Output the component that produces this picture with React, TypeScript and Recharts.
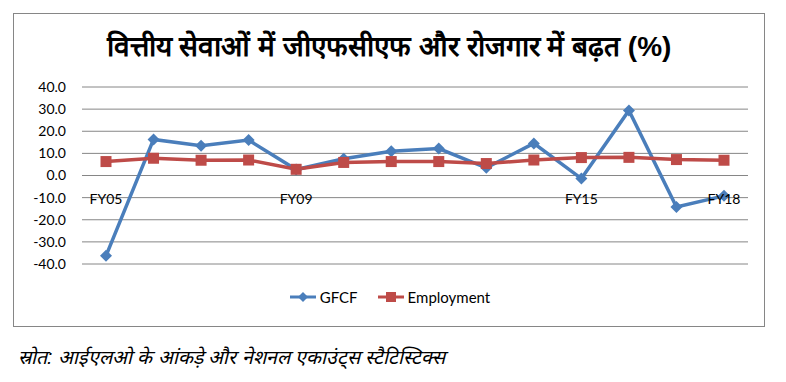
import React from 'react'
import { CartesianGrid, Legend, Line, LineChart, XAxis, YAxis } from 'recharts'

const years = ['FY05', 'FY06', 'FY07', 'FY08', 'FY09', 'FY10', 'FY11', 'FY12', 'FY13', 'FY14', 'FY15', 'FY16', 'FY17', 'FY18']
const shownLabels = ['FY05', 'FY09', 'FY15', 'FY18']
const gfcf = [-36.3, 16.3, 13.4, 16.0, 2.7, 7.6, 11.0, 12.2, 3.5, 14.5, -1.4, 29.4, -14.2, -9.2]
const employment = [6.3, 7.8, 6.9, 7.0, 2.8, 5.9, 6.3, 6.3, 5.4, 7.0, 8.1, 8.2, 7.2, 6.9]
const yTicks = [-40, -30, -20, -10, 0, 10, 20, 30, 40]

const data = years.map((fy, i) => ({ fy, gfcf: gfcf[i], employment: employment[i] }))

const BLUE = '#4A7EBB'
const RED = '#BE4B48'
const LABEL_FONT = 'Lato, "Open Sans", sans-serif'

// plot area box, used to drop the category labels onto the zero line
const PLOT_TOP = 87
const PLOT_H = 177
const zeroY = PLOT_TOP + PLOT_H / 2

function Diamond(props: any) {
  const { cx, cy } = props
  if (cx == null || cy == null) return null
  const r = 6
  return <polygon points={`${cx},${cy - r} ${cx + r},${cy} ${cx},${cy + r} ${cx - r},${cy}`} fill={BLUE} />
}

function Square(props: any) {
  const { cx, cy } = props
  if (cx == null || cy == null) return null
  return <rect x={cx - 5.5} y={cy - 5.5} width={11} height={11} fill={RED} />
}

function YearTick(props: any) {
  const { x, payload } = props
  if (!shownLabels.includes(payload.value)) return null
  return (
    <text x={x} y={zeroY + 28} textAnchor="middle" fontSize={14} fontFamily={LABEL_FONT} fill="#000">
      {payload.value}
    </text>
  )
}

function LegendBox() {
  return (
    <div style={{ display: 'flex', justifyContent: 'center', alignItems: 'center', fontFamily: LABEL_FONT, fontSize: 15, color: '#000' }}>
      <svg width={30} height={14}>
        <line x1={2} y1={7} x2={28} y2={7} stroke={BLUE} strokeWidth={3} />
        <polygon points="15,2 20,7 15,12 10,7" fill={BLUE} />
      </svg>
      <span style={{ marginLeft: 2, marginRight: 18 }}>GFCF</span>
      <svg width={30} height={14}>
        <line x1={2} y1={7} x2={28} y2={7} stroke={RED} strokeWidth={3} />
        <rect x={10} y={2} width={10} height={10} fill={RED} />
      </svg>
      <span style={{ marginLeft: 2 }}>Employment</span>
    </div>
  )
}

export default function App() {
  return (
    <div style={{ position: 'absolute', left: 0, top: 0, width: 786, height: 382, background: '#fff' }}>
      <div style={{ position: 'absolute', left: 13, top: 13, width: 750, height: 312, border: '1px solid #868686' }} />
      <div
        style={{
          position: 'absolute',
          left: 13,
          width: 752,
          top: 26,
          textAlign: 'center',
          fontSize: 28,
          fontWeight: 'bold',
          fontFamily: 'Arial, sans-serif',
          color: '#000',
        }}
      >
        वित्तीय सेवाओं में जीएफसीएफ और रोजगार में बढ़त (%)
      </div>
      <div style={{ position: 'absolute', left: 0, top: 0 }}>
        <LineChart width={786} height={330} data={data} margin={{ top: PLOT_TOP, right: 38, bottom: 22, left: 0 }}>
          <CartesianGrid vertical={false} stroke="#868686" strokeWidth={1} />
          <XAxis
            dataKey="fy"
            interval={0}
            axisLine={false}
            tickLine={false}
            height={24}
            padding={{ left: 24, right: 24 }}
            tick={<YearTick />}
          />
          <YAxis
            width={82}
            domain={[-40, 40]}
            ticks={yTicks}
            interval={0}
            axisLine={false}
            tickLine={false}
            tickMargin={10}
            tickFormatter={(v: number) => v.toFixed(1)}
            tick={{ fontSize: 14, fill: '#000', fontFamily: LABEL_FONT }}
          />
          <Legend verticalAlign="bottom" height={20} content={<LegendBox />} wrapperStyle={{ left: 13, width: 752 }} />
          <Line
            type="linear"
            dataKey="gfcf"
            name="GFCF"
            stroke={BLUE}
            strokeWidth={3.5}
            dot={<Diamond />}
            isAnimationActive={false}
          />
          <Line
            type="linear"
            dataKey="employment"
            name="Employment"
            stroke={RED}
            strokeWidth={3.5}
            dot={<Square />}
            isAnimationActive={false}
          />
        </LineChart>
      </div>
      <div
        style={{
          position: 'absolute',
          left: 18,
          top: 343,
          fontSize: 19.5,
          fontStyle: 'italic',
          fontFamily: 'Arial, sans-serif',
          color: '#000',
        }}
      >
        स्रोत: आईएलओ के आंकड़े और नेशनल एकाउंट्स स्टैटिस्टिक्स
      </div>
    </div>
  )
}
